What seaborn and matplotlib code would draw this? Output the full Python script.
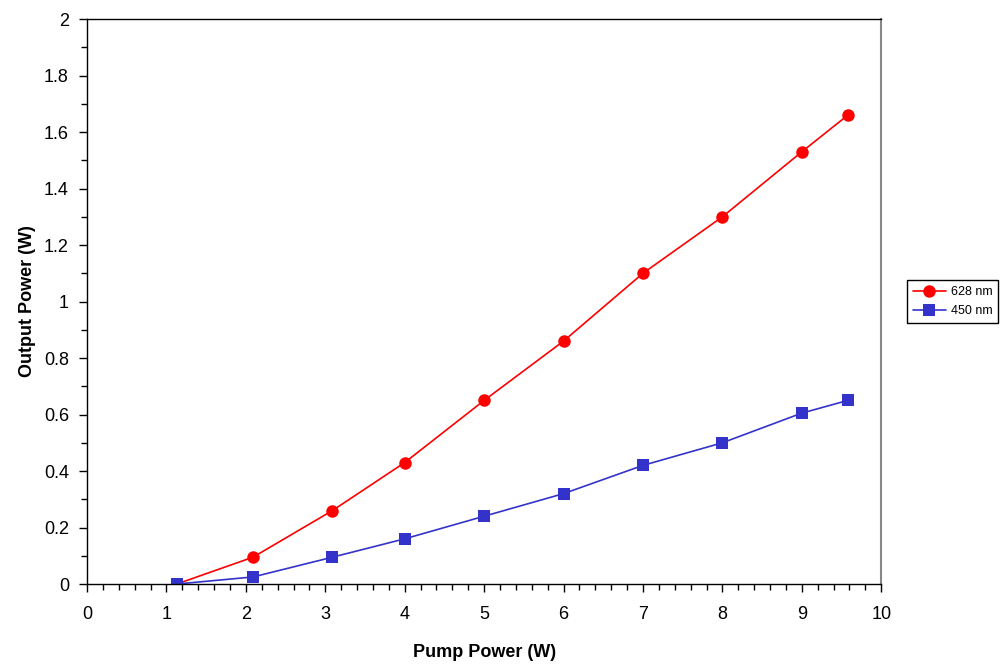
import matplotlib
matplotlib.use("Agg")
import matplotlib.pyplot as plt
from matplotlib.ticker import MultipleLocator
import seaborn as sns
import pandas as pd

# data
pump_628 = [1.13, 2.09, 3.09, 4.0, 5.0, 6.0, 7.0, 8.0, 9.0, 9.58]
out_628 = [0.0, 0.095, 0.26, 0.43, 0.65, 0.86, 1.10, 1.30, 1.53, 1.66]
pump_450 = [1.13, 2.09, 3.09, 4.0, 5.0, 6.0, 7.0, 8.0, 9.0, 9.58]
out_450 = [0.0, 0.025, 0.095, 0.16, 0.24, 0.32, 0.42, 0.50, 0.605, 0.65]

df = pd.concat([
    pd.DataFrame({"pump": pump_628, "out": out_628, "line": "628 nm"}),
    pd.DataFrame({"pump": pump_450, "out": out_450, "line": "450 nm"}),
])

sns.set_style("white")
plt.rcParams["font.family"] = ["Liberation Sans", "DejaVu Sans"]
plt.rcParams["text.color"] = "black"
plt.rcParams["axes.labelcolor"] = "black"
plt.rcParams["xtick.color"] = "black"
plt.rcParams["ytick.color"] = "black"

fig = plt.figure(figsize=(10.06, 6.67), dpi=100)
ax = fig.add_axes([0.0865, 0.1244, 0.7895, 0.8471])

sns.lineplot(data=df, x="pump", y="out", hue="line", style="line",
             palette={"628 nm": "#ff0000", "450 nm": "#3333cc"},
             markers={"628 nm": "o", "450 nm": "s"}, dashes=False,
             markersize=9, markeredgewidth=0, linewidth=1.2, ax=ax, sort=False)

ax.set_xlim(0, 10)
ax.set_ylim(0, 2)
ax.xaxis.set_major_locator(MultipleLocator(1))
ax.xaxis.set_minor_locator(MultipleLocator(0.2))
ax.yaxis.set_minor_locator(MultipleLocator(0.1))
ax.set_yticks([0, 0.2, 0.4, 0.6, 0.8, 1.0, 1.2, 1.4, 1.6, 1.8, 2.0])
ax.set_yticklabels(["0", "0.2", "0.4", "0.6", "0.8", "1", "1.2", "1.4", "1.6", "1.8", "2"])
ax.tick_params(axis="x", which="major", pad=10)
ax.tick_params(axis="y", which="major", pad=7)
ax.tick_params(which="major", direction="out", length=6, width=1, labelsize=13,
               bottom=True, left=True)
ax.tick_params(which="minor", direction="out", length=4, width=1,
               bottom=True, left=True)

for s in ["left", "bottom", "top"]:
    ax.spines[s].set_color("black")
    ax.spines[s].set_linewidth(1)
ax.spines["right"].set_color("#888888")
ax.spines["right"].set_linewidth(1.5)

ax.set_xlabel("Pump Power (W)", fontsize=13, fontweight="bold", labelpad=15)
ax.set_ylabel("Output Power (W)", fontsize=13, fontweight="bold", labelpad=6)

leg = ax.legend(loc="center left", bbox_to_anchor=(1.033, 0.5), fontsize=9,
                frameon=True, fancybox=False, edgecolor="black", framealpha=1,
                borderpad=0.45, handlelength=2.6, handletextpad=0.4,
                labelspacing=0.55, borderaxespad=0)
leg.get_frame().set_linewidth(1)

fig.savefig("out.png", dpi=100)
